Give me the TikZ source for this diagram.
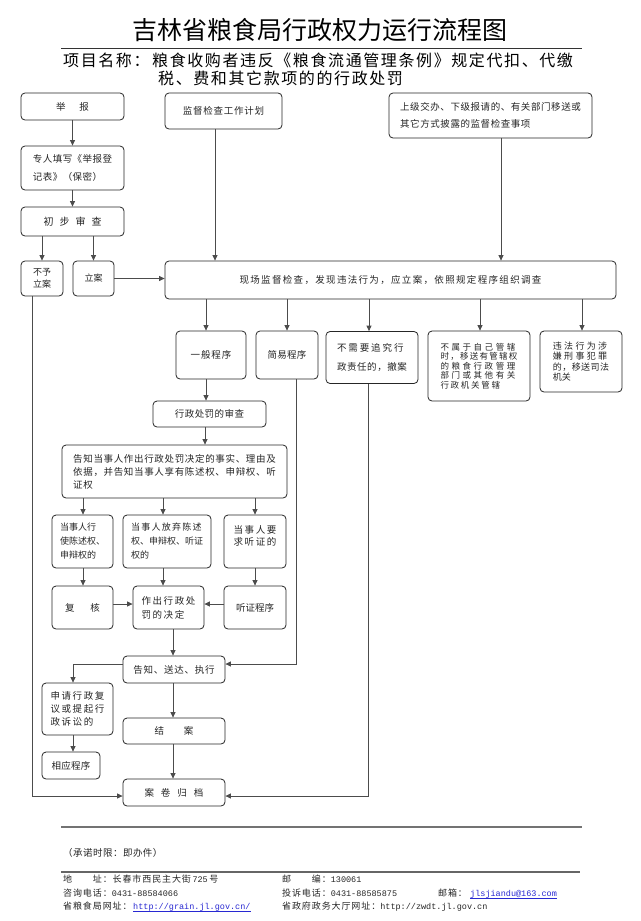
\documentclass[tikz,border=0pt]{standalone}
\usepackage{fontspec}
\setmainfont{Noto Sans CJK SC}
\newfontfamily\monof{Liberation Mono}
\usetikzlibrary{arrows.meta}
\newcommand\fs[2]{\fontsize{#1}{#2}\selectfont}
\newcommand\ls[1]{\addfontfeature{LetterSpace=#1}}
\definecolor{linkblue}{RGB}{40,40,210}
\begin{document}
\begin{tikzpicture}[x=1pt,y=-1pt,
  box/.style={draw=black!85, line width=0.8pt, rounded corners=4pt, inner sep=0pt, align=left, text=black!85},
  conn/.style={draw=black!70, line width=0.8pt},
  arr/.style={conn, -{Triangle[length=5.5pt,width=5pt]}},
  ftxt/.style={anchor=base west, inner sep=0pt, text=black!85, font=\fs{9}{11}},
]
\useasboundingbox (0,0) rectangle (640,921);
\fill[white] (0,0) rectangle (640,921);

% title and project name
\node[inner sep=0pt, font=\fs{25}{30}] (title) at (320,30) {吉林省粮食局行政权力运行流程图};
\draw[line width=0.8pt, black!80] (61,48) -- (582,48);
\node[anchor=base west, inner sep=0pt, font=\fs{16}{18}\ls{10}] (plabel) at (63,66) {项目名称：};
\node[anchor=north west, inner sep=0pt, align=left, font=\fs{16}{18}\ls{10}] (pname) at (152,52.5) {粮食收购者违反《粮食流通管理条例》规定代扣、代缴\\\hspace{6pt}税、费和其它款项的的行政处罚};

% boxes
\node[box, minimum width=103pt, minimum height=27pt, font=\fs{9.5}{12}] (jubao) at (72.5,106.5) {举\hspace{14pt}报};
\node[box, minimum width=117pt, minimum height=36pt, font=\fs{9.5}{12}\ls{8}] (jiandu) at (223.5,111) {监督检查工作计划};
\node[box, minimum width=203pt, minimum height=45pt, font=\fs{9.5}{17}\ls{6}] (shangji) at (490.5,115.5) {上级交办、下级报请的、有关部门移送或\\其它方式披露的监督检查事项};
\node[box, minimum width=103pt, minimum height=44pt, font=\fs{9.5}{18}\ls{5}] (zhuanren) at (72.5,168) {专人填写《举报登\\记表》（保密）};
\node[box, minimum width=103pt, minimum height=29pt, font=\fs{10}{12}] (chubu) at (72.5,221.5) {初\hspace{6pt}步\hspace{6pt}审\hspace{6pt}查};
\node[box, minimum width=42pt, minimum height=35pt, align=center, font=\fs{9}{12}] (buyu) at (42,278.5) {不予\\立案};
\node[box, minimum width=41pt, minimum height=35pt, font=\fs{9}{12}] (lian) at (93.5,278.5) {立案};
\node[box, minimum width=451pt, minimum height=38pt, font=\fs{9.5}{12}\ls{14}] (xianchang) at (390.5,280) {现场监督检查，发现违法行为，应立案，依照规定程序组织调查};

\node[box, minimum width=70pt, minimum height=48pt, font=\fs{9.5}{12}\ls{10}] (yiban) at (211,355) {一般程序};
\node[box, minimum width=62pt, minimum height=48pt, font=\fs{9.5}{12}\ls{3}] (jianyi) at (287,355) {简易程序};
\node[box, minimum width=92pt, minimum height=52pt, font=\fs{9.5}{19}] (buxuyao) at (372,357.5) {{\ls{20}不需要追究行}\\{\ls{6}政责任的，撤案}};
\node[box, minimum width=102pt, minimum height=70pt, font=\fs{8.5}{9.4}] (bushuyu) at (479,366) {{\ls{30}不属于自己管辖}\\{\ls{15}时，移送有管辖权}\\{\ls{30}的粮食行政管理}\\{\ls{30}部门或其他有关}\\{\ls{20}行政机关管辖}};
\node[box, minimum width=82pt, minimum height=61pt, font=\fs{9}{10.4}] (weifa) at (581,361.5) {{\ls{26}违法行为涉}\\{\ls{26}嫌刑事犯罪}\\{\ls{5}的，移送司法}\\机关};

\node[box, minimum width=113pt, minimum height=26pt, font=\fs{9.5}{12}\ls{5}] (shencha) at (209.5,414) {行政处罚的审查};
\node[box, minimum width=225pt, minimum height=53pt, font=\fs{9.5}{13}\ls{7}] (gaozhi1) at (174.5,471.5) {告知当事人作出行政处罚决定的事实、理由及\\依据，并告知当事人享有陈述权、申辩权、听\\证权};

\node[box, minimum width=61pt, minimum height=53pt, font=\fs{9}{14}] (xingshi) at (82.5,541.5) {当事人行\\使陈述权、\\申辩权的};
\node[box, minimum width=88pt, minimum height=53pt, font=\fs{9}{14}] (fangqi) at (167,541.5) {{\ls{14}当事人放弃陈述}\\权、申辩权、听证\\权的};
\node[box, minimum width=62pt, minimum height=53pt, font=\fs{9.5}{12}\ls{16}] (yaoqiu) at (255,541.5) {当事人要\\求听证的\\\mbox{}};

\node[box, minimum width=61pt, minimum height=43pt, font=\fs{9.5}{12}] (fuhe) at (82.5,607.5) {复\hspace{16pt}核};
\node[box, minimum width=71pt, minimum height=43pt, font=\fs{9.5}{14}\ls{16}] (zuochu) at (168.5,607.5) {作出行政处\\罚的决定};
\node[box, minimum width=62pt, minimum height=43pt, font=\fs{9.5}{12}] (tingzheng) at (255,607.5) {听证程序};

\node[box, minimum width=102pt, minimum height=27pt, font=\fs{9.5}{12}\ls{8}] (gaozhi2) at (174,669.5) {告知、送达、执行};
\node[box, minimum width=71pt, minimum height=52pt, font=\fs{9.5}{13}\ls{16}] (shenqing) at (77.5,709) {申请行政复\\议或提起行\\政诉讼的};
\node[box, minimum width=102pt, minimum height=26pt, font=\fs{9.5}{12}] (jiean) at (174,731) {结\hspace{20pt}案};
\node[box, minimum width=58pt, minimum height=27pt, font=\fs{9.5}{12}\ls{3}] (xiangying) at (71,765.5) {相应程序};
\node[box, minimum width=102pt, minimum height=27pt, font=\fs{9.5}{12}] (anjuan) at (174,792.5) {案\hspace{7pt}卷\hspace{7pt}归\hspace{7pt}档};

% connectors
\draw[arr] (jubao) -- (zhuanren);
\draw[arr] (zhuanren) -- (chubu);
\draw[arr] (buyu.north |- chubu.south) -- (buyu.north);
\draw[arr] (lian.north |- chubu.south) -- (lian.north);
\draw[arr] (lian.east) -- (xianchang.west |- lian.east);
\draw[arr] (215,0 |- jiandu.south) -- (215,0 |- xianchang.north);
\draw[arr] (501,0 |- shangji.south) -- (501,0 |- xianchang.north);
\foreach \x/\t in {206/yiban,287/jianyi,369/buxuyao,480/bushuyu,582/weifa}
  \draw[arr] (\x,0 |- xianchang.south) -- (\x,0 |- \t.north);
\draw[arr] (206,0 |- yiban.south) -- (206,0 |- shencha.north);
\draw[arr] (205,0 |- shencha.south) -- (205,0 |- gaozhi1.north);
\foreach \x/\t in {83/xingshi,163/fangqi,255/yaoqiu}
  \draw[arr] (\x,0 |- gaozhi1.south) -- (\x,0 |- \t.north);
\draw[arr] (83,0 |- xingshi.south) -- (83,0 |- fuhe.north);
\draw[arr] (163,0 |- fangqi.south) -- (163,0 |- zuochu.north);
\draw[arr] (255,0 |- yaoqiu.south) -- (255,0 |- tingzheng.north);
\draw[arr] (fuhe.east |- 0,604) -- (zuochu.west |- 0,604);
\draw[arr] (tingzheng.west |- 0,604) -- (zuochu.east |- 0,604);
\draw[arr] (173,0 |- zuochu.south) -- (173,0 |- gaozhi2.north);
\draw[arr] (296,0 |- jianyi.south) -- (296,664) -- (gaozhi2.east |- 0,664);
\draw[arr] (gaozhi2.west |- 0,664) -- (73,664) -- (73,0 |- shenqing.north);
\draw[arr] (73,0 |- shenqing.south) -- (73,0 |- xiangying.north);
\draw[arr] (173,0 |- gaozhi2.south) -- (173,0 |- jiean.north);
\draw[arr] (173,0 |- jiean.south) -- (173,0 |- anjuan.north);
\draw[arr] (32,0 |- buyu.south) -- (32,796) -- (anjuan.west |- 0,796);
\draw[arr] (368,0 |- buxuyao.south) -- (368,796) -- (anjuan.east |- 0,796);

% footer
\draw[line width=1.5pt, black!55] (61,827) -- (582,827);
\node[ftxt, font=\fs{9.5}{11}\ls{5}] (promise) at (63,856.5) {（承诺时限：即办件）};
\draw[line width=1.5pt, black!60] (61,872) -- (580,872);
\node[ftxt] (addr) at (63,882.5) {{\ls{10}地　　址：长春市西民主大街}\,{\monof\fs{8.5}{11}725}\,{\ls{10}号}};
\node[ftxt] (post) at (282,882.5) {{\ls{10}邮　　编：}{\monof\fs{8.5}{11}130061}};
\node[ftxt] (tel) at (63,896.5) {{\ls{10}咨询电话：}{\monof\fs{8.5}{11}0431-88584066}};
\node[ftxt] (complain) at (282,896.5) {{\ls{10}投诉电话：}{\monof\fs{8.5}{11}0431-88585875}};
\node[ftxt] (maillbl) at (438,896.5) {{\ls{10}邮箱：}};
\node[ftxt, text=linkblue, font=\monof\fs{8.5}{11}] (mail) at (470,896.5) {jlsjiandu@163.com};
\node[ftxt] (weblbl) at (63,909.5) {{\ls{10}省粮食局网址：}};
\node[ftxt, text=linkblue, font=\monof\fs{8.5}{11}] (web) at (133,909.5) {http://grain.jl.gov.cn/};
\node[ftxt] (gov) at (282,909.5) {{\ls{10}省政府政务大厅网址：}{\monof\fs{8.5}{11}http://zwdt.jl.gov.cn}};
\draw[linkblue, line width=0.6pt] ([yshift=-1.5pt]mail.base west) -- ([yshift=-1.5pt]mail.base east);
\draw[linkblue, line width=0.6pt] ([yshift=-1.5pt]web.base west) -- ([yshift=-1.5pt]web.base east);
\end{tikzpicture}
\end{document}
